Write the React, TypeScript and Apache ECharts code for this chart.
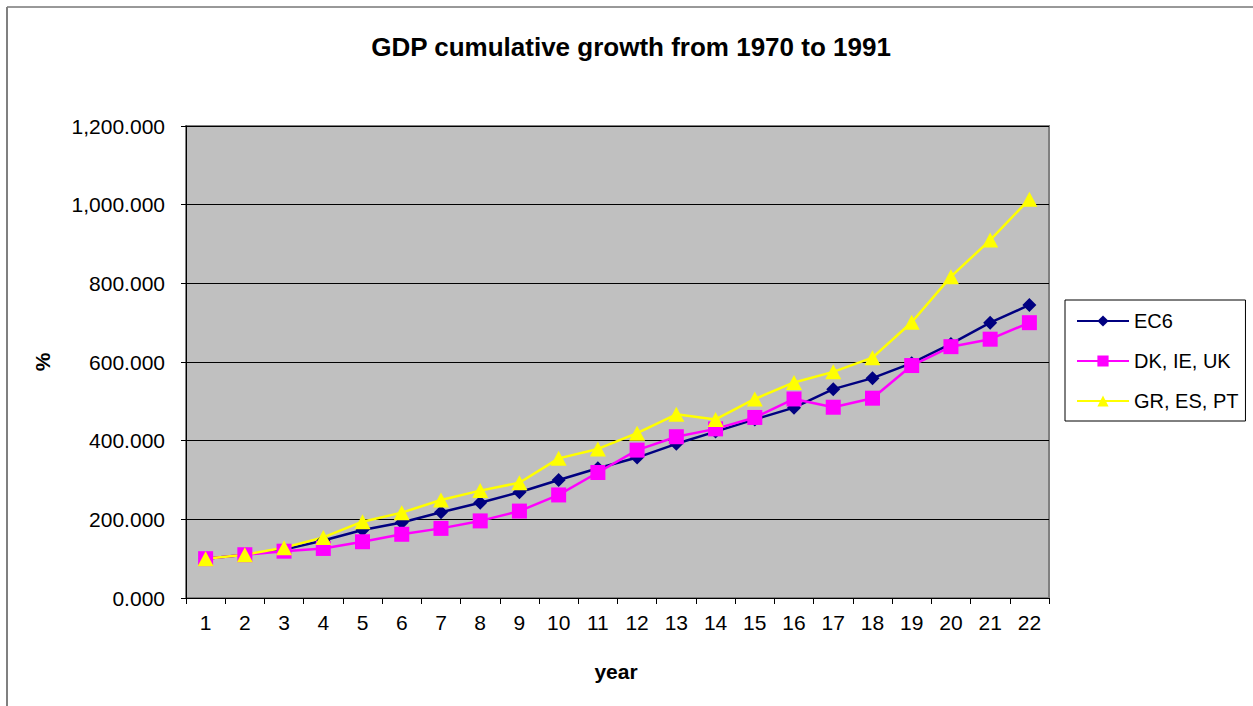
import React, { useEffect, useRef } from "react";
import * as echarts from "echarts";

const years = ["1","2","3","4","5","6","7","8","9","10","11","12","13","14","15","16","17","18","19","20","21","22"];
const ec6 = [100, 110, 123, 146, 173, 192, 218, 242, 269, 300, 330, 357, 392, 423, 454, 484, 531, 559, 597, 646, 700, 745];
const dkIeUk = [100, 110, 119, 126, 143, 162, 177, 196, 221, 262, 319, 376, 410, 430, 459, 506, 485, 508, 591, 639, 658, 700];
const grEsPt = [100, 110, 128, 154, 194, 217, 249, 273, 293, 355, 379, 419, 467, 454, 506, 548, 575, 611, 701, 817, 910, 1014];
const yTicks = [0, 200, 400, 600, 800, 1000, 1200];

const FONT = "Liberation Sans, Arial, sans-serif";

export default function App() {
  const ref = useRef<HTMLDivElement>(null);
  useEffect(() => {
    if (!ref.current) return;
    const chart = echarts.init(ref.current, null, { renderer: "svg" });
    const fmt = (v: number) =>
      v.toLocaleString("en-US", { minimumFractionDigits: 3, maximumFractionDigits: 3 });
    chart.setOption({
      animation: false,
      backgroundColor: "#ffffff",
      textStyle: { fontFamily: FONT },
      grid: {
        left: 186,
        top: 126,
        width: 863,
        height: 472,
        show: true,
        backgroundColor: "#C0C0C0",
        borderColor: "#808080",
        borderWidth: 2,
      },
      legend: {
        orient: "vertical",
        left: 1065,
        top: 300,
        padding: [11, 7, 10, 11],
        borderColor: "#000000",
        borderWidth: 1,
        backgroundColor: "#ffffff",
        itemWidth: 52,
        itemHeight: 14,
        itemGap: 20,
        textStyle: { fontSize: 20, lineHeight: 20, color: "#000", fontFamily: FONT },
        data: ["EC6", "DK, IE, UK", "GR, ES, PT"],
      },
      xAxis: {
        type: "category",
        data: years,
        boundaryGap: true,
        axisLine: { show: true, lineStyle: { color: "#000", width: 1 } },
        axisTick: { show: true, alignWithLabel: false, length: 6, lineStyle: { color: "#000" } },
        axisLabel: { fontSize: 21, color: "#000", margin: 14, fontFamily: FONT },
        splitLine: { show: false },
      },
      yAxis: {
        type: "value",
        min: yTicks[0],
        max: yTicks[yTicks.length - 1],
        interval: 200,
        axisLine: { show: true, lineStyle: { color: "#000", width: 1 } },
        axisTick: { show: true, length: 5, lineStyle: { color: "#000" } },
        axisLabel: { fontSize: 21, color: "#000", margin: 21, fontFamily: FONT, formatter: (v: number) => fmt(v) },
        splitLine: { show: true, lineStyle: { color: "#000", width: 1 } },
      },
      graphic: [
        { type: "line", shape: { x1: 7, y1: 7, x2: 1253, y2: 7 }, style: { stroke: "#333", lineWidth: 1 } },
        { type: "line", shape: { x1: 7, y1: 7, x2: 7, y2: 706 }, style: { stroke: "#808080", lineWidth: 2 } },
        {
          type: "text",
          x: 631,
          y: 47,
          style: { text: "GDP cumulative growth from 1970 to 1991", font: `bold 26px ${FONT}`, fill: "#000", align: "center", verticalAlign: "middle" },
        },
        {
          type: "text",
          x: 616,
          y: 671,
          style: { text: "year", font: `bold 21px ${FONT}`, fill: "#000", align: "center", verticalAlign: "middle" },
        },
        {
          type: "text",
          x: 42,
          y: 362,
          rotation: Math.PI / 2,
          style: { text: "%", font: `bold 21px ${FONT}`, fill: "#000", align: "center", verticalAlign: "middle" },
        },
      ],
      series: [
        {
          name: "EC6",
          type: "line",
          data: ec6,
          symbol: "diamond",
          symbolSize: 14,
          lineStyle: { color: "#000080", width: 2.5 },
          itemStyle: { color: "#000080" },
        },
        {
          name: "DK, IE, UK",
          type: "line",
          data: dkIeUk,
          symbol: "rect",
          symbolSize: 15,
          lineStyle: { color: "#FF00FF", width: 2.5 },
          itemStyle: { color: "#FF00FF" },
        },
        {
          name: "GR, ES, PT",
          type: "line",
          data: grEsPt,
          symbol: "triangle",
          symbolSize: [16, 15],
          lineStyle: { color: "#FFFF00", width: 2.5 },
          itemStyle: { color: "#FFFF00" },
        },
      ],
    });
    return () => chart.dispose();
  }, []);
  return <div ref={ref} style={{ position: "absolute", left: 0, top: 0, width: 1253, height: 706 }} />;
}
